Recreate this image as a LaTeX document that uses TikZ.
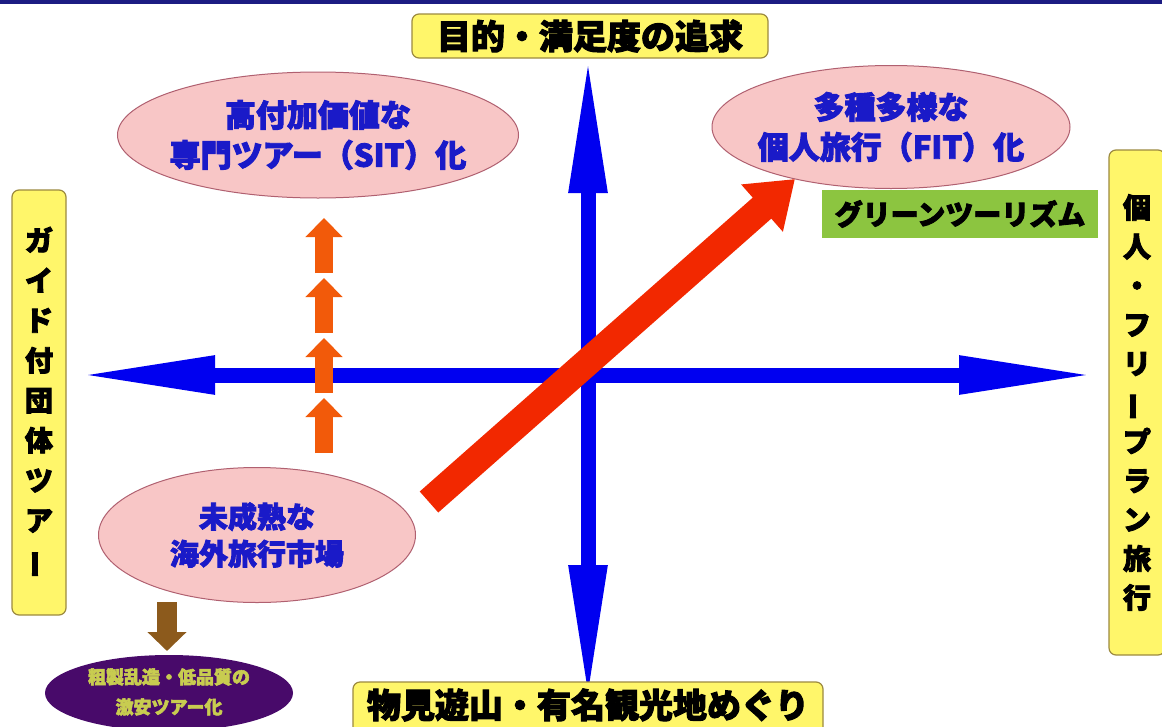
\documentclass[tikz,border=0pt]{standalone}
\usepackage{fontspec}
\usepackage{graphicx}
\newfontfamily\cjk{Noto Sans CJK JP}[BoldFeatures={FakeBold=3}]
\usetikzlibrary{arrows.meta,shapes.geometric}
\definecolor{navy}{HTML}{1C1C82}
\definecolor{ylw}{HTML}{FFF66A}
\definecolor{ylwbd}{HTML}{9C8A40}
\definecolor{pinkf}{HTML}{F8C6C6}
\definecolor{pinkbd}{HTML}{B06070}
\definecolor{axisblue}{HTML}{0000F0}
\definecolor{txtblue}{HTML}{1A1AC8}
\definecolor{orng}{HTML}{F25A0A}
\definecolor{redar}{HTML}{F22800}
\definecolor{grn}{HTML}{8CC540}
\definecolor{purp}{HTML}{480A6A}
\definecolor{purptxt}{HTML}{C8CC50}
\definecolor{brwn}{HTML}{8C5A1C}
\newcommand{\vlong}{\rotatebox[origin=c]{90}{ー}}
\begin{document}
\begin{tikzpicture}[x=1pt,y=-1pt,
  labelbox/.style={draw=ylwbd, line width=1.2pt, fill=ylw, rounded corners=7pt, inner sep=0pt},
  labeltext/.style={font=\cjk\bfseries\fontsize{34}{38}\selectfont, text=black},
  vtext/.style={font=\cjk\bfseries\fontsize{28}{40}\selectfont, text=black, align=center},
  pinkell/.style={ellipse, draw=pinkbd, line width=1pt, fill=pinkf, inner sep=0pt},
  etext/.style={font=\cjk\bfseries\fontsize{31}{40}\selectfont, text=txtblue, align=center},
  axis/.style={draw=axisblue, line width=15pt, {Triangle[length=138pt,width=35pt]}-{Triangle[length=138pt,width=35pt]}},
  uparrow/.style={draw=orng, line width=18pt, -{Triangle[length=19pt,width=36pt]}},
]
\useasboundingbox (0,0) rectangle (1162,726);
\fill[white] (0,0) rectangle (1162,726);
\fill[navy] (0,0) rectangle (1162,4);

% axes
\coordinate (vtop) at (588,55);
\coordinate (vbot) at (588,703);
\coordinate (hleft) at (77,375);
\coordinate (hright) at (1097,375);
\draw[axis] (hleft) -- (hright);
\draw[axis] (vbot) -- (vtop);

% axis labels
\node[labelbox, minimum width=356, minimum height=44] (top) at (590,36) {};
\node[labeltext] at (top.center) {目的・満足度の追求};
\node[labelbox, minimum width=470, minimum height=56] (bot) at (588,710) {};
\node[labeltext, anchor=center] at (588,705) {物見遊山・有名観光地めぐり};
\node[labelbox, minimum width=54, minimum height=425] (left) at (39,402.5) {};
\node[vtext] at (left.center) {ガ\\イ\\ド\\付\\団\\体\\ツ\\ア\\\vlong};
\node[labelbox, minimum width=56, minimum height=505] (right) at (1137,402.5) {};
\node[vtext, font=\cjk\bfseries\fontsize{28}{39}\selectfont] at (right.center) {個\\人\\・\\フ\\リ\\\vlong\\プ\\ラ\\ン\\旅\\行};

% ellipses
\node[pinkell, minimum width=401, minimum height=126] (sit) at (318,135) {};
\node[etext] at (sit.center) {高付加価値な\\専門ツアー（SIT）化};
\node[pinkell, minimum width=358, minimum height=123] (fit) at (891,127) {};
\node[etext] at (fit.center) {多種多様な\\個人旅行（FIT）化};
\node[pinkell, minimum width=317, minimum height=135] (imm) at (257,535) {};
\node[etext, font=\cjk\bfseries\fontsize{29}{37}\selectfont] at (imm.center) {未成熟な\\海外旅行市場};

% green box
\node[fill=grn, minimum width=276, minimum height=48, inner sep=0pt,
      font=\cjk\bfseries\fontsize{28}{32}\selectfont] (green) at (960,214) {グリーンツーリズム};

% purple ellipse
\node[ellipse, fill=purp, minimum width=248, minimum height=76, inner sep=0pt] (cheap) at (169,693) {};
\node[font=\cjk\bfseries\fontsize{18}{30}\selectfont, text=purptxt, align=center] at (169,692) {粗製乱造・低品質の\\激安ツアー化};

% brown arrow
\coordinate (b1) at (167,602);
\coordinate (b2) at (167,651);
\draw[draw=brwn, line width=20pt, -{Triangle[length=19pt,width=38pt]}] (b1) -- (b2);

% orange arrows
\coordinate (o1s) at (324,273); \coordinate (o1e) at (324,218);
\coordinate (o2s) at (324,333); \coordinate (o2e) at (324,278);
\coordinate (o3s) at (324,393); \coordinate (o3e) at (324,338);
\coordinate (o4s) at (324,453); \coordinate (o4e) at (324,398);
\draw[uparrow] (o1s) -- (o1e);
\draw[uparrow] (o2s) -- (o2e);
\draw[uparrow] (o3s) -- (o3e);
\draw[uparrow] (o4s) -- (o4e);

% red diagonal arrow
\coordinate (rs) at (429,502);
\coordinate (re) at (795,179);
\draw[draw=redar, line width=28pt, -{Triangle[length=44pt,width=60pt]}] (rs) -- (re);
\end{tikzpicture}
\end{document}
